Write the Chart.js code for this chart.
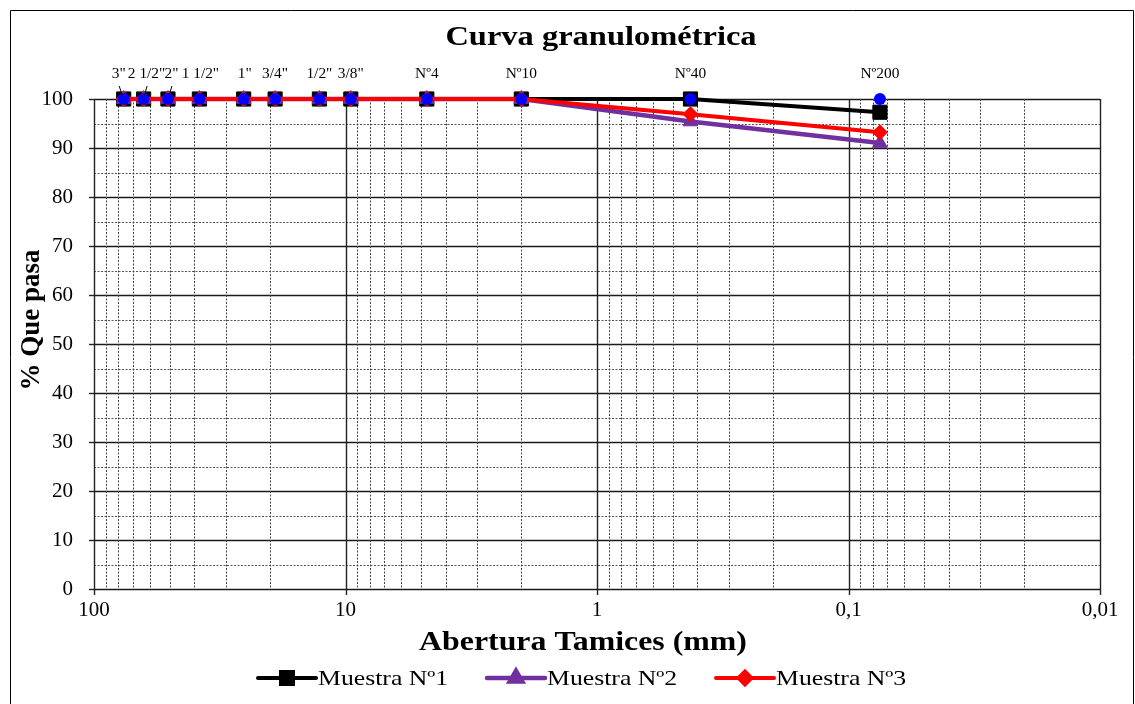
<!DOCTYPE html>
<html>
<head>
<meta charset="utf-8">
<title>Curva granulométrica</title>
<script src="https://cdn.jsdelivr.net/npm/chart.js@4.4.0/dist/chart.umd.min.js"></script>
<style>
  html, body { margin: 0; padding: 0; background: #fff; }
  #wrap { position: relative; width: 1135px; height: 704px; }
</style>
</head>
<body>
<div id="wrap"><canvas id="granChart" width="1135" height="704"></canvas></div>
<script>
// Sieves and openings (mm)
const sieveNames = ['3"', '2 1/2"', '2"', '1 1/2"', '1"', '3/4"', '1/2"', '3/8"', 'Nº4', 'Nº10', 'Nº40', 'Nº200'];
const sieveOpenings = [76.2, 63.5, 50.8, 38.1, 25.4, 19.05, 12.7, 9.525, 4.75, 2.0, 0.425, 0.075];

// % que pasa por muestra
const muestra1 = [100, 100, 100, 100, 100, 100, 100, 100, 100, 100, 100, 97.3];
const muestra2 = [100, 100, 100, 100, 100, 100, 100, 100, 100, 100, 95.4, 91.0];
const muestra3 = [100, 100, 100, 100, 100, 100, 100, 100, 100, 100, 96.9, 93.2];
const sieveMarks = [100, 100, 100, 100, 100, 100, 100, 100, 100, 100, 100, 100];

// axis ticks
const xTickValues = [100, 10, 1, 0.1, 0.01];
const xTickLabels = ['100', '10', '1', '0,1', '0,01'];
const yTickValues = [0, 10, 20, 30, 40, 50, 60, 70, 80, 90, 100];

const serif = '"Liberation Serif", "Times New Roman", serif';

// label nudges for the crowded sieves at the coarse end
const labelShift = [-5, 3, 3.5, 1, 1, 0, 0, 0, 0, 0, 0, 0];

function toPoints(values) {
    return values.map((v, i) => ({ x: sieveOpenings[i], y: v }));
}

const series = [
    { label: 'Muestra Nº1', data: muestra1, color: '#000000', style: 'rect', radius: 10, width: 4, order: 3 },
    { label: 'Muestra Nº2', data: muestra2, color: '#7030A0', style: 'triangle', radius: 8.5, width: 4.5, order: 2 },
    { label: 'Muestra Nº3', data: muestra3, color: '#FF0000', style: 'rectRot', radius: 7.5, width: 4, order: 1 }
];

// text drawn a little wider than the font, like the rest of the sheet
function wideText(ctx, text, x, y, sx) {
    ctx.save();
    ctx.translate(x, y);
    ctx.scale(sx, 1);
    ctx.fillText(text, 0, 0);
    ctx.restore();
}

// grid: solid at decades / tens, dotted in between
const gridPlugin = {
    id: 'logGrid',
    beforeDatasetsDraw(chart) {
        const ctx = chart.ctx;
        const xs = chart.scales.x, ys = chart.scales.y;
        const area = chart.chartArea;
        ctx.save();

        for (let v = 0; v <= 100; v += 5) {
            const y = Math.round(ys.getPixelForValue(v)) + 0.5;
            const major = v % 10 === 0;
            ctx.setLineDash(major ? [] : [2, 1.5]);
            ctx.strokeStyle = major ? '#1a1a1a' : '#555';
            ctx.lineWidth = major ? 1.3 : 1;
            ctx.beginPath();
            ctx.moveTo(area.left, y);
            ctx.lineTo(area.right, y);
            ctx.stroke();
        }

        for (let k = -2; k <= 1; k++) {
            for (let m = 2; m <= 9; m++) {
                const x = Math.round(xs.getPixelForValue(m * Math.pow(10, k))) + 0.5;
                ctx.setLineDash([2, 1.5]);
                ctx.strokeStyle = '#444';
                ctx.lineWidth = 1;
                ctx.beginPath();
                ctx.moveTo(x, area.top);
                ctx.lineTo(x, area.bottom);
                ctx.stroke();
            }
        }
        ctx.setLineDash([]);
        xTickValues.forEach(v => {
            const x = Math.round(xs.getPixelForValue(v)) + 0.5;
            ctx.strokeStyle = '#222';
            ctx.lineWidth = 1.4;
            ctx.beginPath();
            ctx.moveTo(x, area.top);
            ctx.lineTo(x, area.bottom + 6);
            ctx.stroke();
        });
        yTickValues.forEach(v => {
            const y = Math.round(ys.getPixelForValue(v)) + 0.5;
            ctx.beginPath();
            ctx.moveTo(area.left - 5, y);
            ctx.lineTo(area.left, y);
            ctx.stroke();
        });
        ctx.restore();
    }
};

// titles, sieve labels, legend and frame
const textPlugin = {
    id: 'chartText',
    afterDraw(chart) {
        const ctx = chart.ctx;
        const xs = chart.scales.x, ys = chart.scales.y;
        ctx.save();
        ctx.fillStyle = '#000';
        ctx.textBaseline = 'middle';
        ctx.textAlign = 'center';

        ctx.font = 'bold 28px ' + serif;
        wideText(ctx, 'Curva granulométrica', 601, 38, 1.16);

        ctx.font = 'bold 27px ' + serif;
        wideText(ctx, 'Abertura Tamices (mm)', 583, 643, 1.18);

        ctx.save();
        ctx.translate(32, 320);
        ctx.rotate(-Math.PI / 2);
        ctx.fillText('% Que pasa', 0, 0);
        ctx.restore();

        // sieve names over the points
        ctx.font = '14px ' + serif;
        sieveNames.forEach((name, i) => {
            const px = xs.getPixelForValue(sieveOpenings[i]);
            const py = ys.getPixelForValue(sieveMarks[i]);
            const lx = px + labelShift[i];
            const ly = py - 25;
            wideText(ctx, name, lx, ly, 1.1);
            if (i < 3) {
                ctx.strokeStyle = '#000';
                ctx.lineWidth = 1;
                ctx.beginPath();
                ctx.moveTo(lx + 0.5, ly + 12);
                ctx.lineTo(px + labelShift[i] * 0.3, py - 4);
                ctx.stroke();
            }
        });

        // legend: line with marker, then text
        ctx.font = '22px ' + serif;
        ctx.textAlign = 'left';
        const legendX = [258, 487, 716];
        const legendY = 678;
        series.forEach((s, i) => {
            const x0 = legendX[i];
            ctx.strokeStyle = s.color;
            ctx.fillStyle = s.color;
            ctx.lineWidth = s.width;
            ctx.lineCap = 'round';
            ctx.beginPath();
            ctx.moveTo(x0, legendY);
            ctx.lineTo(x0 + 58, legendY);
            ctx.stroke();
            Chart.helpers.drawPoint(ctx, { pointStyle: s.style, rotation: 0, radius: s.radius * 0.85, borderWidth: 1 }, x0 + 29, legendY);
            ctx.fillStyle = '#000';
            wideText(ctx, s.label, x0 + 60, legendY + 1, 1.17);
        });

        // outer frame
        ctx.strokeStyle = '#000';
        ctx.lineWidth = 1;
        ctx.beginPath();
        ctx.moveTo(10.5, 704);
        ctx.lineTo(10.5, 10.5);
        ctx.lineTo(1133.5, 10.5);
        ctx.lineTo(1133.5, 704);
        ctx.stroke();
        ctx.restore();
    }
};

const datasets = series.map(s => ({
    label: s.label,
    data: toPoints(s.data),
    borderColor: s.color,
    backgroundColor: s.color,
    borderWidth: s.width,
    pointStyle: s.style,
    pointRadius: s.radius,
    pointBorderWidth: 1,
    pointBackgroundColor: s.color,
    pointBorderColor: s.color,
    tension: 0,
    clip: false,
    order: s.order
}));

datasets.push({
    label: 'Tamices',
    data: toPoints(sieveMarks),
    showLine: false,
    pointStyle: 'circle',
    pointRadius: 6,
    pointBorderWidth: 0,
    pointBackgroundColor: '#0000FF',
    pointBorderColor: '#0000FF',
    clip: false,
    order: 0
});

new Chart(document.getElementById('granChart'), {
    type: 'line',
    data: { datasets: datasets },
    options: {
        responsive: false,
        animation: false,
        devicePixelRatio: 1,
        layout: { padding: { left: 0, right: 35, top: 99, bottom: 75 } },
        plugins: {
            legend: { display: false },
            title: { display: false },
            tooltip: { enabled: false }
        },
        scales: {
            x: {
                type: 'logarithmic',
                reverse: true,
                min: 0.01,
                max: 100,
                grid: { display: false, drawTicks: false },
                border: { display: false },
                afterBuildTicks: scale => {
                    scale.ticks = xTickValues.map(v => ({ value: v }));
                },
                afterFit: scale => { scale.height = 40; },
                ticks: {
                    autoSkip: false,
                    maxRotation: 0,
                    padding: 9,
                    color: '#000',
                    font: { family: serif, size: 21 },
                    callback: (value) => xTickLabels[xTickValues.indexOf(value)]
                }
            },
            y: {
                min: 0,
                max: 100,
                grid: { display: false, drawTicks: false },
                border: { display: false },
                afterFit: scale => { scale.width = 94; },
                ticks: {
                    stepSize: 10,
                    padding: 21,
                    color: '#000',
                    font: { family: serif, size: 21 }
                }
            }
        }
    },
    plugins: [gridPlugin, textPlugin]
});
</script>
</body>
</html>
